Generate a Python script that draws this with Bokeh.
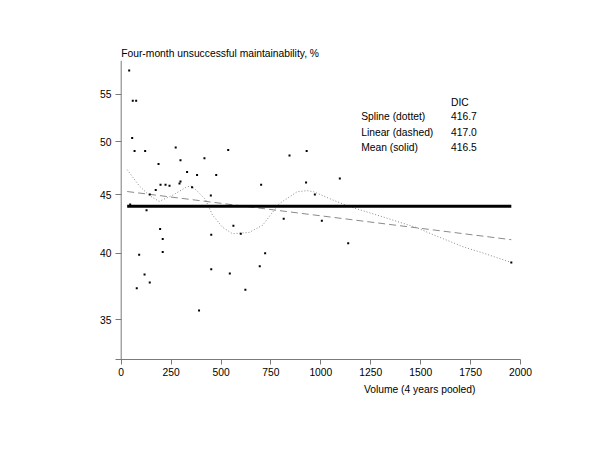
from bokeh.plotting import figure
from bokeh.models import Range1d, FixedTicker, PrintfTickFormatter, Span, Label, Title
from bokeh.embed import file_html
from bokeh.resources import INLINE

# ---- data ----
volume = [40, 58, 75, 55, 67, 120, 273, 297, 417, 187, 536, 330, 380, 476, 297, 292,
          197, 222, 242, 173, 143, 355, 449, 701, 843, 929, 926, 970, 45, 127, 814,
          195, 208, 208, 90, 117, 143, 78, 390, 451, 451, 562, 599, 721, 694, 544,
          622, 1005, 1095, 1137, 1954]
pct = [57.7, 54.3, 54.3, 50.4, 49.1, 49.1, 49.45, 48.2, 48.4, 47.85, 49.2, 47.07, 46.8,
       46.8, 46.2, 46.0, 45.9, 45.9, 45.8, 45.4, 45.0, 45.65, 44.9, 45.9, 48.66, 49.1,
       46.1, 45.0, 44.1, 43.6, 42.86, 42.0, 41.15, 40.1, 39.87, 38.33, 37.72, 37.29,
       35.65, 41.5, 38.73, 42.26, 41.6, 40.0, 38.97, 38.4, 37.17, 42.7, 46.48, 40.8, 39.26]

spline_x = [30, 90, 140, 190, 257, 324, 349, 380, 422, 457, 507, 557, 641, 708, 791,
            881, 931, 964, 1065, 1148, 1315, 1482, 1550, 1716, 1816, 1954]
spline_y = [47.3, 45.8, 44.93, 44.38, 44.93, 45.65, 45.8, 45.33, 44.56, 43.2, 42.15,
            41.6, 41.7, 42.3, 44.17, 45.25, 45.35, 45.25, 44.47, 43.9, 43.0, 42.1, 41.6,
            40.5, 40.0, 39.26]

linear_x = [30, 1954]
linear_y = [45.27, 41.1]

mean_x = [30, 1954]
mean_y = [43.96, 43.96]

x_ticks = [0, 250, 500, 750, 1000, 1250, 1500, 1750, 2000]
y_ticks = [35, 40, 45, 50, 55]

model_labels = ["Spline (dottet)", "Linear (dashed)", "Mean (solid)"]
dic_values = ["416.7", "417.0", "416.5"]
dic_header = "DIC"
title_text = "Four-month unsuccessful maintainability, %"
xlabel_text = "Volume (4 years pooled)"

# ---- style ----
FONT = "Liberation Sans"
FSIZE = "10.3px"
AXIS_COL = "#7a7a7a"

p = figure(width=590, height=440,
           x_range=Range1d(-28.5, 2000), y_range=Range1d(32.32, 58.88),
           y_axis_type="log", output_backend="svg", toolbar_location=None,
           min_border_left=115, min_border_right=70,
           min_border_top=60, min_border_bottom=81)
p.outline_line_color = None
p.grid.visible = False
p.background_fill_color = "white"
p.border_fill_color = "white"

# title (top-left, above the y axis)
p.title.text = title_text
p.title.align = "left"
p.title.offset = 5.7
p.title.standoff = 4
p.title.text_font = FONT
p.title.text_font_size = FSIZE
p.title.text_font_style = "normal"
p.title.text_color = "black"

# x axis
xa = p.xaxis[0]
xa.ticker = FixedTicker(ticks=x_ticks, minor_ticks=[])
xa.axis_line_color = AXIS_COL
xa.major_tick_line_color = AXIS_COL
xa.major_tick_out = 5
xa.major_tick_in = 0
xa.minor_tick_line_color = None
xa.major_label_standoff = 3
xa.major_label_text_font = FONT
xa.major_label_text_font_size = FSIZE
xa.major_label_text_color = "black"

# x label, placed right of centre as in the reference
p.add_layout(Title(text=xlabel_text, align="right", offset=45, standoff=7,
                   text_font=FONT, text_font_size=FSIZE, text_font_style="normal",
                   text_color="black"), "below")

# y axis (ticks run from the frame edge to the axis line at x = 0)
ya = p.yaxis[0]
ya.ticker = FixedTicker(ticks=y_ticks, minor_ticks=[])
ya.formatter = PrintfTickFormatter(format="%d")
ya.axis_line_color = None
ya.major_tick_line_color = AXIS_COL
ya.major_tick_out = 0
ya.major_tick_in = 6
ya.minor_tick_line_color = None
ya.major_label_standoff = 4
ya.major_label_text_font = FONT
ya.major_label_text_font_size = FSIZE
ya.major_label_text_color = "black"

p.add_layout(Span(location=0, dimension="height", line_color=AXIS_COL, line_width=1))

# model fits
p.line(spline_x, spline_y, line_color="#8a8a8a", line_width=1, line_dash="1 2")
p.line(linear_x, linear_y, line_color="#8a8a8a", line_width=1, line_dash="7 4")
p.line(mean_x, mean_y, line_color="black", line_width=3)

# observations
p.scatter(volume, pct, marker="square", size=2.0, fill_color="black", line_color=None)

# legend-like text block
def add_label(text, x, y, align="left"):
    p.add_layout(Label(x=x, y=y, text=text, text_font=FONT, text_font_size=FSIZE,
                       text_align=align, text_baseline="middle", text_color="black"))

header_y = 54.16
row_y = [52.63, 51.0, 49.5]
add_label(dic_header, 1652, header_y)
for lab, val, yy in zip(model_labels, dic_values, row_y):
    add_label(lab, 1202, yy)
    add_label(val, 1652, yy)

open("out.html", "w").write(file_html(p, INLINE))
